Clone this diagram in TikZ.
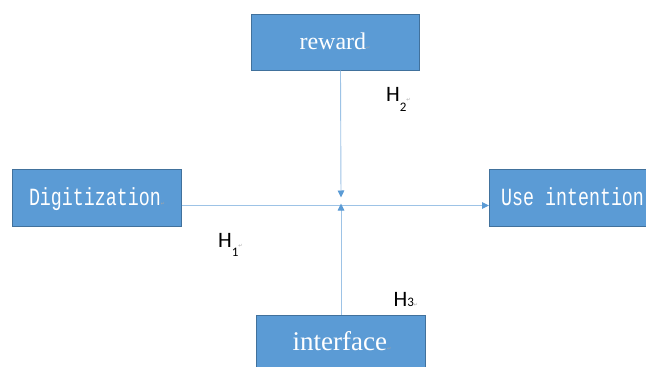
\documentclass[tikz,border=0pt]{standalone}
\usepackage{fontspec}
\setmainfont{Liberation Serif}
\newfontfamily\labfont{Carlito}
\newfontfamily\monofont{Liberation Mono}
\newfontfamily\symfont{DejaVu Sans}
\usetikzlibrary{arrows.meta}
\definecolor{boxfill}{HTML}{5B9BD5}
\definecolor{boxedge}{HTML}{41719C}
\definecolor{linkblue}{HTML}{9DC3E6}
\definecolor{tipblue}{HTML}{5B9BD5}
\definecolor{markgray}{HTML}{A6A6A6}
\tikzset{
  factor/.style={draw=boxedge, fill=boxfill, line width=1pt, inner sep=0pt},
  boxtext/.style={text=white, inner sep=0pt, anchor=base},
  link/.style={draw=linkblue, line width=0.9pt,
    -{Triangle[length=7pt,width=6.5pt,color=tipblue]}},
  hyp/.style={font=\labfont\fontsize{22}{22}\selectfont, inner sep=0pt, anchor=base west}
}
% small paragraph mark
\newcommand{\retm}{{\symfont\fontsize{5}{5}\selectfont\textcolor{markgray}{↵}}}
% tall monospaced box caption
\newcommand{\talltext}[1]{\scalebox{1}[1.35]{\monofont\fontsize{18.3}{18.3}\selectfont #1}}
% lowered index digit
\newcommand{\idx}[2]{\raisebox{#1}{\fontsize{13}{13}\selectfont #2}}
\begin{document}
\begin{tikzpicture}[x=1pt, y=-1pt]
  \useasboundingbox (0,0) rectangle (646,367);
  \clip (0,0) rectangle (646,367);
  \fill[white] (0,0) rectangle (646,367);

  % factor boxes
  \path[factor] (251,14) rectangle (419,70.5);
  \path[factor] (12,169.5) rectangle (181.5,226);
  \path[factor] (489,169.5) rectangle (680,226);
  \path[factor] (256,315) rectangle (425,400);

  \node[coordinate] (rw) at (340.5,70.5) {};
  \node[coordinate] (dg) at (181.5,205.5) {};
  \node[coordinate] (ui) at (489,205.5) {};
  \node[coordinate] (it) at (341,315) {};
  \node[coordinate] (c1) at (341,197.5) {};
  \node[coordinate] (c2) at (341,203.5) {};

  % box texts
  \node[boxtext, font=\fontsize{24}{24}\selectfont] (trw) at (335,49) {reward\retm};
  \node[boxtext] (tdg) at (97,205) {\talltext{Digitization}\retm};
  \node[boxtext, anchor=base west] (tui) at (501,205) {\talltext{Use intention}};
  \node[boxtext, font=\fontsize{27}{27}\selectfont] (tit) at (342,350) {interface\retm};

  % connectors
  \draw[link] (dg) -- (ui);
  \draw[link] (rw) -- (c1);
  \draw[link] (it) -- (c2);

  % hypothesis labels
  \node[hyp] (h2) at (386,101) {H\idx{-10pt}{2}\retm};
  \node[hyp] (h1) at (218,247.5) {H\idx{-8.5pt}{1}\retm};
  \node[hyp] (h3) at (393.5,306) {H\idx{0pt}{3}\retm};
\end{tikzpicture}
\end{document}
